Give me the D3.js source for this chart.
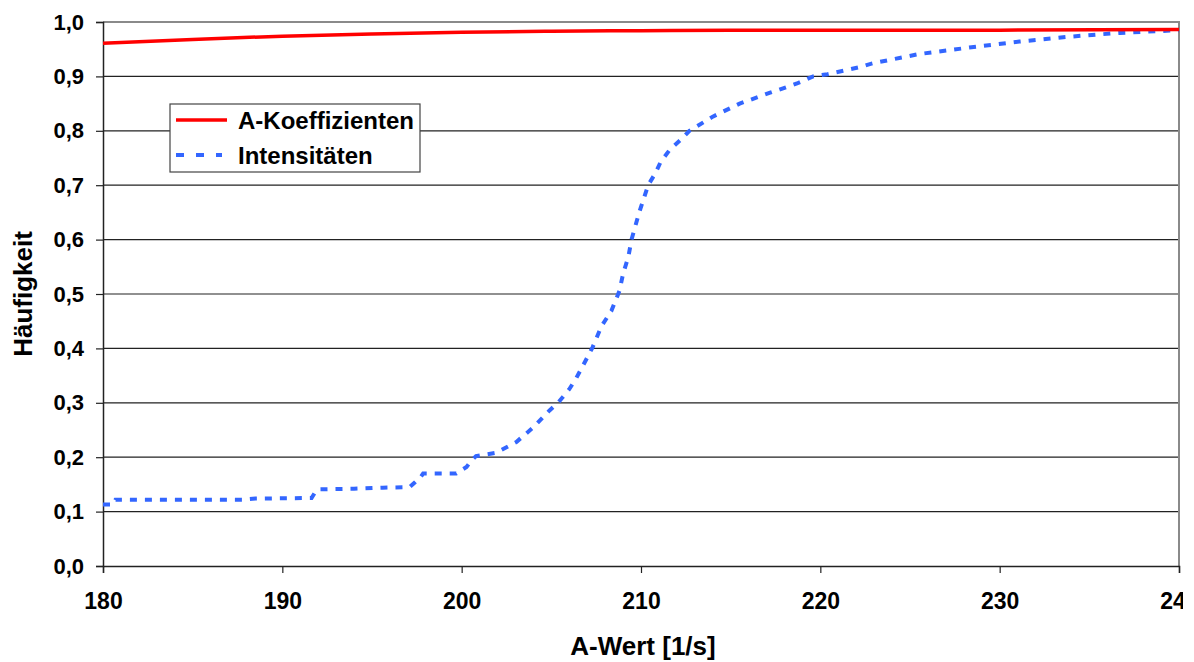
<!DOCTYPE html>
<html>
<head>
<meta charset="utf-8">
<script src="https://cdn.jsdelivr.net/npm/d3@7"></script>
<style>
  body { margin: 0; background: #fff; }
  svg { display: block; }
  text { font-family: "Liberation Sans", Arial, sans-serif; font-weight: bold; fill: #000; }
</style>
</head>
<body>
<div id="chart"></div>
<script>
// Daten
const seriesNames = ["A-Koeffizienten", "Intensitäten"];
const xTicks = [180, 190, 200, 210, 220, 230, 240];
const yTicks = [0, 0.1, 0.2, 0.3, 0.4, 0.5, 0.6, 0.7, 0.8, 0.9, 1.0];

const koefX = [180, 185, 190, 195, 200, 205, 210, 215, 220, 230, 240];
const koefY = [0.961, 0.968, 0.974, 0.978, 0.981, 0.983, 0.984, 0.985, 0.985, 0.985, 0.986];

const intX = [180, 180.57, 180.7, 187.8, 188.5, 191.63, 191.8, 192.0, 194, 195.6, 197.1, 197.4, 197.7, 197.85,
  199.7, 200.27, 200.55, 200.8, 201.9, 203.05, 204.0, 204.9, 205.4, 206.0, 206.4, 207.0, 207.3, 207.8,
  208.35, 208.8, 209.0, 209.3, 209.47, 209.9, 210.4, 210.8, 211.1, 211.6, 212.2, 212.7, 214.0, 215.5,
  217.2, 218.7, 219.6, 220.4, 222.2, 222.9, 225.5, 228.3, 231.1, 233.9, 236.7, 240];
const intY = [0.113, 0.113, 0.122, 0.122, 0.124, 0.125, 0.134, 0.141, 0.142, 0.144, 0.145, 0.154, 0.163, 0.170,
  0.170, 0.182, 0.194, 0.202, 0.208, 0.228, 0.255, 0.286, 0.301, 0.325, 0.346, 0.383, 0.402, 0.441,
  0.469, 0.506, 0.537, 0.569, 0.600, 0.650, 0.700, 0.722, 0.743, 0.765, 0.783, 0.800, 0.826, 0.850,
  0.870, 0.887, 0.900, 0.904, 0.917, 0.924, 0.941, 0.953, 0.964, 0.973, 0.980, 0.985];

const margin = { top: 22, right: 15, bottom: 96, left: 103 };
const W = 1194, H = 662;
const w = 1179 - margin.left; // Plotbreite
const h = 566 - margin.top;   // Plothöhe

const de = d3.formatLocale({ decimal: ",", thousands: ".", grouping: [3], currency: ["", " €"] });
const fmtY = de.format(".1f");

// Bild ist rechts knapp hinter der Achse abgeschnitten (wie im Original)
const svg = d3.select("#chart")
  .append("svg")
  .attr("width", 1183)
  .attr("height", H)
  .style("overflow", "hidden");

const g = svg.append("g")
  .attr("transform", "translate(" + margin.left + "," + margin.top + ")");

const xScale = d3.scaleLinear().domain([180, 240]).range([0, w]);
const yScale = d3.scaleLinear().domain([0, 1]).range([h, 0]);

// Gitterlinien
g.selectAll("line.grid")
  .data(yTicks.filter((d) => d > 0 && d < 1))
  .enter()
  .append("line")
  .attr("class", "grid")
  .attr("x1", 0)
  .attr("x2", w)
  .attr("y1", (d) => yScale(d))
  .attr("y2", (d) => yScale(d))
  .attr("stroke", "#222")
  .attr("stroke-width", 1.2);

// Rahmen oben und rechts (grau)
g.append("path")
  .attr("d", `M0,${yScale(1)}H${w}V${h}`)
  .attr("fill", "none")
  .attr("stroke", "#8a8a8a")
  .attr("stroke-width", 2);

const xAxis = d3.axisBottom(xScale).tickValues(xTicks).tickSize(7).tickPadding(20).tickFormat(d3.format("d"));
const yAxis = d3.axisLeft(yScale).tickValues(yTicks).tickSize(7).tickPadding(12).tickFormat(fmtY);

const gx = g.append("g")
  .attr("transform", "translate(0," + h + ")")
  .call(xAxis);
gx.select(".domain").attr("stroke", "#222").attr("stroke-width", 1.5);
gx.selectAll(".tick line").attr("stroke", "#222").attr("stroke-width", 1.2);
gx.selectAll(".tick text")
  .style("font-size", "23px")
  .attr("fill", "#000")
  .attr("dy", "0.68em");

const gy = g.append("g").call(yAxis);
gy.select(".domain").attr("stroke", "#222").attr("stroke-width", 1.5);
gy.selectAll(".tick line").attr("stroke", "#222").attr("stroke-width", 1.2);
gy.selectAll(".tick text")
  .style("font-size", "22px")
  .attr("fill", "#000");

// Achsentitel
svg.append("text")
  .attr("x", margin.left + w / 2 + 2)
  .attr("y", 655)
  .attr("text-anchor", "middle")
  .style("font-size", "26px")
  .text("A-Wert [1/s]");

svg.append("text")
  .attr("transform", "translate(32," + (margin.top + h / 2) + ") rotate(-90)")
  .attr("text-anchor", "middle")
  .style("font-size", "26px")
  .text("Häufigkeit");

// Kurven
const line = d3.line()
  .x((d) => xScale(d[0]))
  .y((d) => yScale(d[1]));

const koef = koefX.map((x, i) => [x, koefY[i]]);
const inten = intX.map((x, i) => [x, intY[i]]);

g.append("path")
  .datum(inten)
  .attr("fill", "none")
  .attr("stroke", "#3366ff")
  .attr("stroke-width", 4)
  .attr("stroke-dasharray", "7,8")
  .attr("d", line);

g.append("path")
  .datum(koef)
  .attr("fill", "none")
  .attr("stroke", "#ff0000")
  .attr("stroke-width", 3.5)
  .attr("d", line.curve(d3.curveMonotoneX));

// Legende
const legend = svg.append("g").attr("transform", "translate(170,104)");
legend.append("rect")
  .attr("width", 250)
  .attr("height", 68)
  .attr("fill", "#fff")
  .attr("stroke", "#444")
  .attr("stroke-width", 1.2);

const legStyles = [
  { color: "#ff0000", dash: null, width: 3.5, x2: 57 },
  { color: "#3366ff", dash: "8,12", width: 4, x2: 52 }
];

legend.selectAll("g.item")
  .data(seriesNames)
  .enter()
  .append("g")
  .attr("class", "item")
  .attr("transform", (d, i) => "translate(0," + (16 + i * 35) + ")")
  .each(function (d, i) {
    const s = legStyles[i];
    const it = d3.select(this);
    it.append("line")
      .attr("x1", 6)
      .attr("x2", s.x2)
      .attr("stroke", s.color)
      .attr("stroke-width", s.width)
      .attr("stroke-dasharray", s.dash);
    it.append("text")
      .attr("x", 68)
      .attr("y", 9)
      .style("font-size", "24px")
      .text(d);
  });
</script>
</body>
</html>
